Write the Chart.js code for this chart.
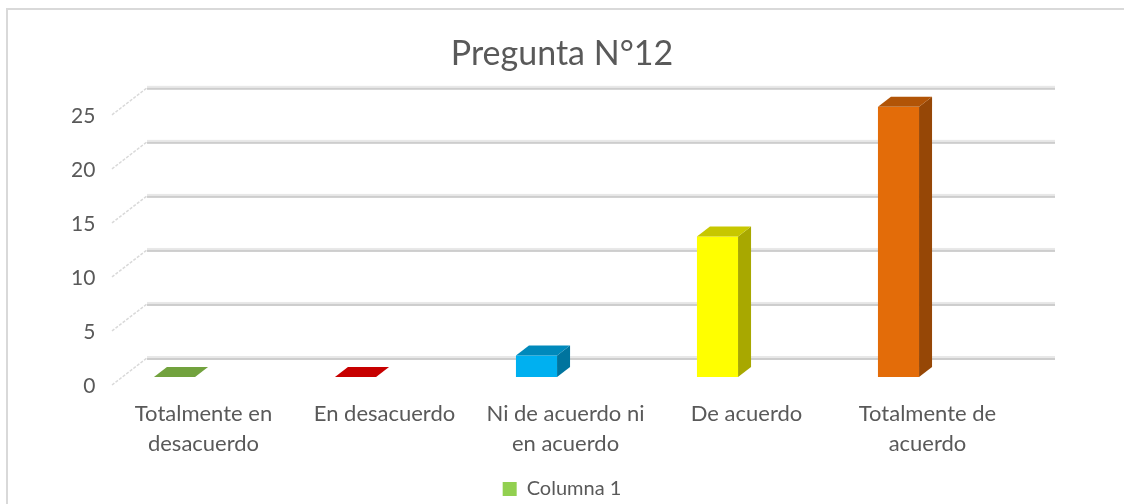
<!DOCTYPE html>
<html>
<head>
<meta charset="utf-8">
<script src="https://cdn.jsdelivr.net/npm/chart.js@4/dist/chart.umd.min.js"></script>
<style>
html,body{margin:0;padding:0;background:#fff;overflow:hidden;}
#wrap{width:1124px;height:504px;position:relative;}
</style>
</head>
<body>
<div id="wrap"><canvas id="c" width="1124" height="504"></canvas></div>
<script>
// ---- data ----
const categories = [["Totalmente en", "desacuerdo"], "En desacuerdo", ["Ni de acuerdo ni", "en acuerdo"], "De acuerdo", ["Totalmente de", "acuerdo"]];
const values = [0, 0, 2, 13, 25];
const barColors = ['#92d050', '#ff0000', '#00b0f0', '#ffff00', '#e36c09'];
const seriesName = 'Columna 1';
const titleText = 'Pregunta N°12';
const yMin = 0, yMax = 25, yStep = 5;

// ---- helpers ----
function shade(hex, f) {
  const n = parseInt(hex.slice(1), 16);
  const r = Math.round(((n >> 16) & 255) * f);
  const g = Math.round(((n >> 8) & 255) * f);
  const b = Math.round((n & 255) * f);
  return 'rgb(' + r + ',' + g + ',' + b + ')';
}
const TXT = '#595959';
const FONT = 'Lato';
const BAR_DX = 13, BAR_DY = 10;

const framePlugin = {
  id: 'frame',
  beforeDraw(chart) {
    const ctx = chart.ctx;
    ctx.save();
    ctx.fillStyle = '#ffffff';
    ctx.fillRect(0, 0, chart.width, chart.height);
    ctx.strokeStyle = '#d9d9d9';
    ctx.lineWidth = 2;
    ctx.beginPath();
    ctx.moveTo(7, chart.height);
    ctx.lineTo(7, 9);
    ctx.lineTo(chart.width, 9);
    ctx.stroke();
    ctx.restore();
  }
};

const gridPlugin = {
  id: 'grid3d',
  beforeDatasetsDraw(chart) {
    const ctx = chart.ctx, a = chart.chartArea, y = chart.scales.y;
    const fl = a.left + 28, bl = a.left + 63, br = a.right + 66;
    ctx.save();
    for (let v = yMin; v <= yMax; v += yStep) {
      const p = y.getPixelForValue(v);
      const yb = p - 19, yf = p + 8;
      ctx.fillStyle = '#e8e8e8';
      ctx.fillRect(bl, yb - 2, br - bl, 2);
      ctx.fillStyle = '#cdcdcd';
      ctx.fillRect(bl, yb, br - bl, 2);
      ctx.strokeStyle = '#d9d9d9';
      ctx.lineWidth = 1.5;
      ctx.setLineDash([3, 1.5]);
      ctx.beginPath();
      ctx.moveTo(fl, yf);
      ctx.lineTo(bl, yb);
      ctx.stroke();
      ctx.setLineDash([]);
    }
    ctx.restore();
  }
};

const bar3dPlugin = {
  id: 'bar3d',
  afterDatasetsDraw(chart) {
    const ctx = chart.ctx;
    const meta = chart.getDatasetMeta(0);
    meta.data.forEach((bar, i) => {
      const p = bar.getProps(['x', 'y', 'base', 'width'], true);
      const l = p.x - p.width / 2, r = p.x + p.width / 2;
      const top = Math.min(p.y, p.base), base = Math.max(p.y, p.base);
      const c = barColors[i];
      ctx.save();
      if (base - top > 0.5) {
        ctx.fillStyle = shade(c, 0.66);
        ctx.beginPath();
        ctx.moveTo(r, top);
        ctx.lineTo(r + BAR_DX, top - BAR_DY);
        ctx.lineTo(r + BAR_DX, base - BAR_DY);
        ctx.lineTo(r, base);
        ctx.closePath();
        ctx.fill();
      }
      ctx.fillStyle = shade(c, 0.78);
      ctx.beginPath();
      ctx.moveTo(l, top);
      ctx.lineTo(l + BAR_DX, top - BAR_DY);
      ctx.lineTo(r + BAR_DX, top - BAR_DY);
      ctx.lineTo(r, top);
      ctx.closePath();
      ctx.fill();
      ctx.restore();
    });
  }
};

new Chart(document.getElementById('c'), {
  type: 'bar',
  data: {
    labels: categories,
    datasets: [{
      label: seriesName,
      data: values,
      backgroundColor: barColors,
      borderWidth: 0,
      barPercentage: 0.227,
      categoryPercentage: 1.0
    }]
  },
  options: {
    responsive: false,
    animation: false,
    devicePixelRatio: 1,
    layout: { padding: { top: 0, left: 0, right: 0, bottom: -5 } },
    plugins: {
      title: {
        display: true,
        text: titleText,
        color: TXT,
        font: { family: FONT, size: 34, weight: 'normal' },
        padding: { top: 34, bottom: 32 }
      },
      legend: {
        display: true,
        position: 'bottom',
        labels: {
          boxWidth: 14,
          boxHeight: 14,
          padding: 5,
          color: TXT,
          font: { family: FONT, size: 20 },
          generateLabels: () => [{
            text: seriesName, fillStyle: barColors[0], strokeStyle: barColors[0],
            lineWidth: 0, hidden: false, datasetIndex: 0, fontColor: TXT
          }]
        }
      },
      tooltip: { enabled: false }
    },
    scales: {
      x: {
        grid: { display: false },
        border: { display: false },
        ticks: {
          color: TXT,
          font: { family: FONT, size: 22, lineHeight: 1.36 },
          padding: 14,
          labelOffset: 29,
          maxRotation: 0,
          autoSkip: false
        },
        afterFit(s) { s.height = 97; }
      },
      y: {
        position: 'left',
        min: yMin,
        max: yMax,
        grid: { display: false },
        border: { display: false },
        ticks: {
          stepSize: yStep,
          color: TXT,
          font: { family: FONT, size: 21 },
          mirror: true,
          crossAlign: 'far',
          padding: -13,
          labelOffset: 9
        },
        afterFit(s) { s.width = 84; }
      },
      yR: {
        axis: 'y',
        position: 'right',
        display: true,
        grid: { display: false },
        border: { display: false },
        ticks: { display: false },
        afterFit(s) { s.width = 135; }
      }
    }
  },
  plugins: [framePlugin, gridPlugin, bar3dPlugin]
});
</script>
</body>
</html>
